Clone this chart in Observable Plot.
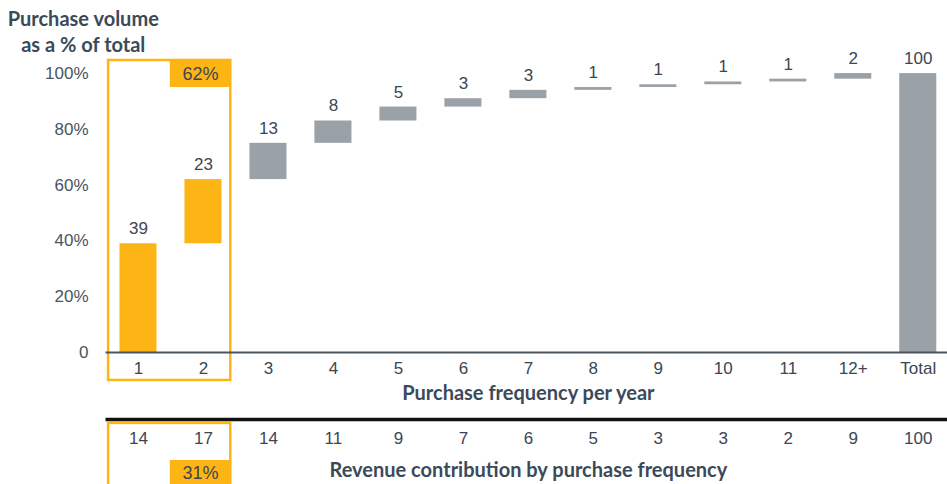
<!DOCTYPE html>
<html><head><meta charset="utf-8">
<script src="https://cdn.jsdelivr.net/npm/d3@7"></script>
<script src="https://cdn.jsdelivr.net/npm/@observablehq/plot@0.6"></script>
<style>body{margin:0;background:#fff;} svg{display:block;}</style>
</head><body><div id="chart"></div>
<script>
// ---- data ----
const categories = ["1","2","3","4","5","6","7","8","9","10","11","12+","Total"];
const volume = [39,23,13,8,5,3,3,1,1,1,1,2];
const revenue = [14,17,14,11,9,7,6,5,3,3,2,9,100];
const yTicks = [0,20,40,60,80,100];
const xTitle = "Purchase frequency per year";
const revenueTitle = "Revenue contribution by purchase frequency";
const yTitle = "Purchase volume\nas a % of total";
const highlightCount = 2;

// ---- derived ----
let cum = 0;
const bars = volume.map((v,i)=>{const b={i,label:v,y1:cum,y2:cum+v,hi:i<highlightCount}; cum+=v; return b;});
bars.push({i:categories.length-1,label:cum,y1:0,y2:cum,hi:false});
const volShare = d3.sum(volume.slice(0,highlightCount));
const revShare = d3.sum(revenue.slice(0,highlightCount));
const cats = categories.map((c,i)=>({c,i}));
const revs = revenue.map((r,i)=>({r,i}));

// ---- style / layout ----
const ORANGE="#fdb515", GRAY="#9aa1a7", TEXT="#3c4652", TITLE="#3b4a59";
const hw = 0.285;
const boxL = -0.46, boxR = highlightCount-1+0.42, tagL = highlightCount-1-0.51;
const TITLE_FONT = "Lato, 'Open Sans', sans-serif";

const chart = Plot.plot({
  width:947, height:484,
  marginLeft:105.5, marginRight:0, marginTop:0, marginBottom:0,
  x:{domain:[-0.5,12.45], axis:null},
  y:{domain:[-47.3,126.2], axis:null},
  style:{fontFamily:"'Liberation Sans', Arial, sans-serif", fontSize:"16px", color:TEXT, background:"#fff"},
  marks:[
    Plot.axisY(yTicks,{anchor:"left", tickSize:0, tickPadding:17.5, label:null,
      tickFormat:d=>d===0?"0":d+"%", fontSize:17, fill:"#4a5460"}),
    // highlight frames
    Plot.rect([0],{x1:()=>boxL,x2:()=>boxR,y1:()=>-10,y2:()=>104.7,fill:"none",stroke:ORANGE,strokeWidth:2.5}),
    Plot.rect([0],{x1:()=>tagL,x2:()=>boxR,y1:()=>95,y2:()=>104.7,fill:ORANGE}),
    Plot.text([volShare+"%"],{x:()=>(tagL+boxR)/2,y:()=>99.8,text:d=>d,fontSize:18,fill:TEXT}),
    Plot.rect([0],{x1:()=>boxL,x2:()=>boxR,y1:()=>-60,y2:()=>-25.4,fill:"none",stroke:ORANGE,strokeWidth:2.5}),
    Plot.rect([0],{x1:()=>tagL,x2:()=>boxR,y1:()=>-60,y2:()=>-38.7,fill:ORANGE}),
    Plot.text([revShare+"%"],{x:()=>(tagL+boxR)/2,y:()=>-43.2,text:d=>d,fontSize:18,fill:TEXT}),
    // bars
    Plot.rect(bars.filter(d=>d.hi),{x1:d=>d.i-hw,x2:d=>d.i+hw,y1:"y1",y2:"y2",fill:ORANGE}),
    Plot.rect(bars.filter(d=>!d.hi),{x1:d=>d.i-hw,x2:d=>d.i+hw,y1:"y1",y2:"y2",fill:GRAY}),
    Plot.text(bars,{x:"i",y:"y2",text:d=>String(d.label),dy:-15,fontSize:17,fill:TEXT}),
    Plot.ruleY([0],{stroke:"#4b565e",strokeWidth:2}),
    Plot.text(cats,{x:"i",y:()=>0,text:"c",dy:15.5,fontSize:17,fill:TEXT}),
    Plot.text([xTitle],{x:()=>6,y:()=>-14.7,text:d=>d,fontSize:20,fontWeight:"bold",fontFamily:TITLE_FONT,fill:TITLE}),
    Plot.ruleY([-24],{stroke:"#111",strokeWidth:3.5}),
    Plot.text(revs,{x:"i",y:()=>-30.7,text:d=>String(d.r),fontSize:17,fill:TEXT}),
    Plot.text([revenueTitle],{x:()=>6,y:()=>-42.3,text:d=>d,fontSize:20,fontWeight:"bold",fontFamily:TITLE_FONT,fill:TITLE}),
    Plot.text([yTitle],{x:()=>-0.85,y:()=>120.2,text:d=>d,lineAnchor:"middle",lineHeight:1.3,fontSize:20,fontWeight:"bold",fontFamily:TITLE_FONT,fill:TITLE,dy:13})
  ]
});
document.getElementById("chart").appendChild(chart);
</script>
</body></html>
